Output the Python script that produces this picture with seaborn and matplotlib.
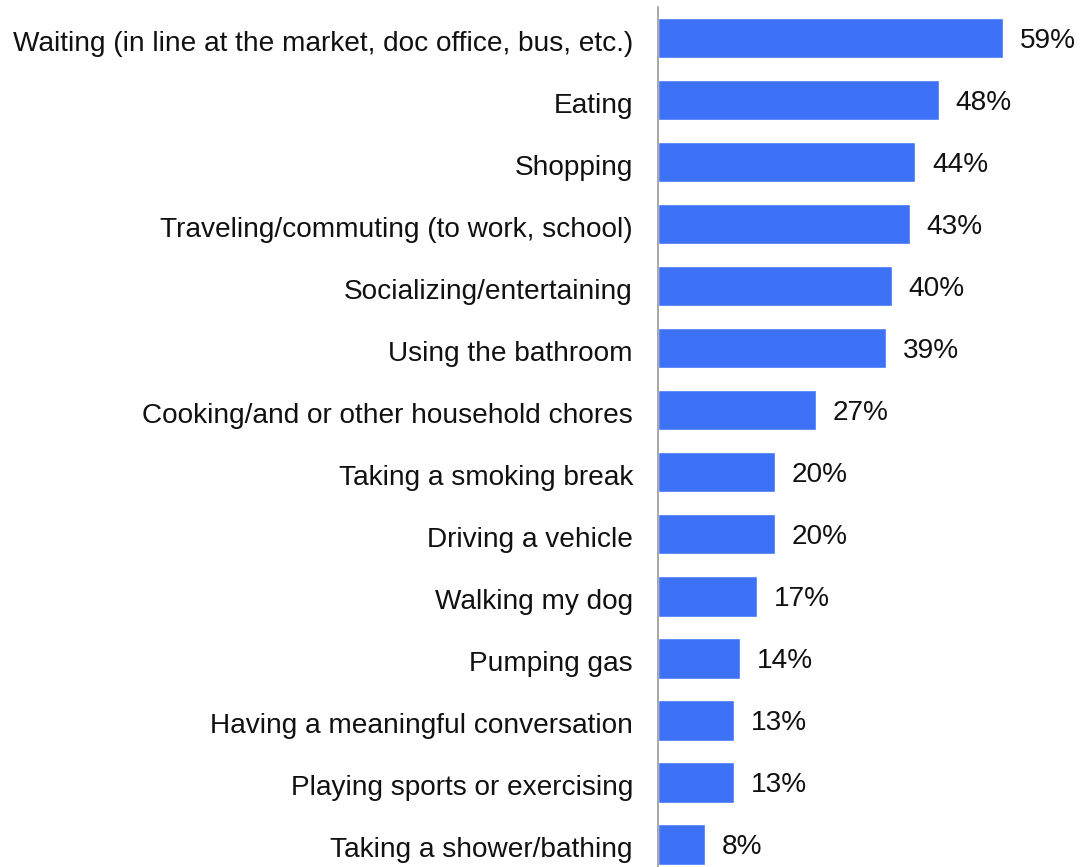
import pandas as pd
import seaborn as sns
import matplotlib.pyplot as plt
import matplotlib.transforms as mtransforms

activities = [
    "Waiting (in line at the market, doc office, bus, etc.)",
    "Eating",
    "Shopping",
    "Traveling/commuting (to work, school)",
    "Socializing/entertaining",
    "Using the bathroom",
    "Cooking/and or other household chores",
    "Taking a smoking break",
    "Driving a vehicle",
    "Walking my dog",
    "Pumping gas",
    "Having a meaningful conversation",
    "Playing sports or exercising",
    "Taking a shower/bathing",
]
percent = [59, 48, 44, 43, 40, 39, 27, 20, 20, 17, 14, 13, 13, 8]

df = pd.DataFrame({"activity": activities, "pct": percent})

sns.set_style("white")
plt.rcParams['font.family'] = ['Liberation Sans', 'DejaVu Sans']

fig = plt.figure(figsize=(10.81, 8.67), dpi=100)
ax = fig.add_axes([658 / 1081, 0.0, 1 - 658 / 1081, 1 - 7 / 867])

sns.barplot(data=df, x="pct", y="activity", color="#3d72f7", width=0.66,
            saturation=1, ax=ax)

# value labels at the end of each bar
for i, v in enumerate(df["pct"]):
    ax.annotate(f"{v}%", xy=(v, i), xytext=(12, -2), textcoords="offset points",
                va="center", ha="left", fontsize=20.2, color="#111111")

ax.set_xlim(0, 72.3)
ax.set_ylim(13.37, -0.5)
ax.set_xlabel("")
ax.set_ylabel("")
ax.set_xticks([])
ax.tick_params(axis="y", length=0, pad=18, labelsize=20.2, labelcolor="#111111")

# nudge the category labels down a little so they sit centred on the bars
shift = mtransforms.ScaledTranslation(0, -2 / 72, fig.dpi_scale_trans)
for lab in ax.get_yticklabels():
    lab.set_transform(lab.get_transform() + shift)

for side in ["top", "right", "bottom"]:
    ax.spines[side].set_visible(False)
ax.spines["left"].set_color("#999999")
ax.spines["left"].set_linewidth(1.2)

fig.savefig("out.png", dpi=100)
